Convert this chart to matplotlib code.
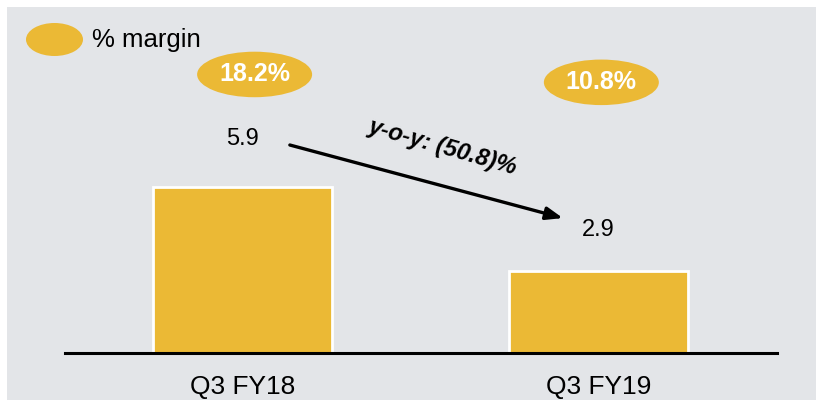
import matplotlib.pyplot as plt
from matplotlib.patches import Ellipse, Rectangle

plt.rcParams['font.family'] = ['Liberation Sans', 'DejaVu Sans']

categories = ['Q3 FY18', 'Q3 FY19']
values = [5.9, 2.9]
margins = ['18.2%', '10.8%']
yoy_label = 'y-o-y: (50.8)%'
legend_label = '% margin'

gold = '#EBB935'
bg = '#E3E5E8'

W, H = 824, 407
fig = plt.figure(figsize=(W / 100, H / 100), dpi=100)
fig.patch.set_facecolor('white')
fig.patches.append(Rectangle((7 / W, 7 / H), 809 / W, 393 / H, transform=fig.transFigure,
                             facecolor=bg, edgecolor='none', zorder=-10))

# axes spans from the baseline up to the top of the grey panel
ax = fig.add_axes([65 / W, (H - 353) / H, 712 / W, 346 / H])
ax.set_facecolor('none')
x = list(range(len(categories)))
ax.bar(x, values, width=0.503, color=gold, edgecolor='white', linewidth=2, zorder=2)
ax.set_xlim(-0.4986, 1.5014)
ax.set_ylim(0, 12.31)

for s in ['top', 'right', 'left']:
    ax.spines[s].set_visible(False)
ax.spines['bottom'].set_linewidth(2.2)
ax.spines['bottom'].set_color('black')
ax.set_yticks([])
ax.set_xticks(x)
ax.set_xticklabels(categories, fontsize=19)
ax.tick_params(axis='x', length=0, pad=16)

# value labels above bars
label_gap = [1.73, 1.49]
for xi, v, g in zip(x, values, label_gap):
    ax.text(xi, v + g, f'{v}', ha='center', va='center', fontsize=17)

# margin bubbles
bubble_x = [0.034, 0.008]
bubble_y = [9.91, 9.63]
for xi, m, bx, by in zip(x, margins, bubble_x, bubble_y):
    ax.add_patch(Ellipse((xi + bx, by), 0.323, 1.62, facecolor=gold, edgecolor='none'))
    ax.text(xi + bx, by, m, ha='center', va='center', fontsize=18, color='white',
            fontweight='bold')

# y-o-y arrow
ax.annotate('', xy=(0.90, 4.8), xytext=(0.133, 7.4),
            arrowprops=dict(arrowstyle='-|>,head_length=1.0,head_width=0.38', color='black',
                            lw=2.4, shrinkA=0, shrinkB=0))
ax.text(0.563, 7.33, yoy_label, ha='center', va='center', fontsize=17, fontweight='bold',
        fontstyle='italic', rotation=-16, rotation_mode='anchor')

# legend
fig.patches.append(Ellipse((54.5 / W, (H - 39.5) / H), 57 / W, 33 / H, transform=fig.transFigure,
                           facecolor=gold, edgecolor='none'))
fig.text(92 / W, (H - 40) / H, legend_label, ha='left', va='center', fontsize=18.5)

fig.savefig('out.png', dpi=100)
